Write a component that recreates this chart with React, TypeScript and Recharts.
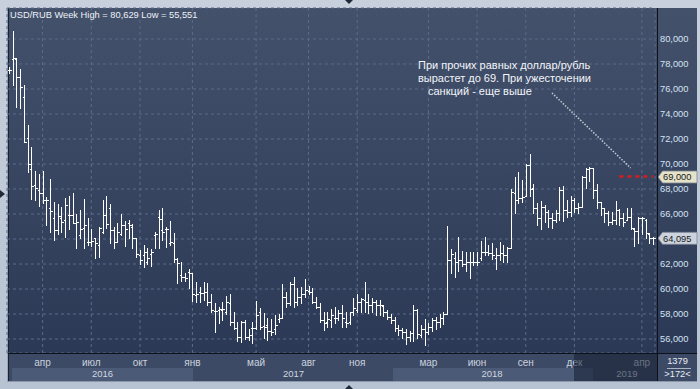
import { ComposedChart, Bar, XAxis, YAxis, CartesianGrid, ReferenceLine } from "recharts";

// weekly OHLC, USD/RUB
const opens = [
  77.55, 78.37, 78.37, 76.93, 75.39, 72.05, 69.57, 68.32, 67.92, 67.65,
  67.12, 66.51, 65.65, 64.72, 65.65, 65.52, 65.92, 65.92, 65.25, 64.32,
  64.85, 63.79, 63.79, 64.05, 63.52, 64.59, 65.92, 66.45, 64.72, 63.79,
  64.37, 65.12, 65.25, 64.99, 64.05, 62.72, 62.72, 62.19, 62.77, 64.32,
  65.79, 64.72, 64.8, 63.65, 63.65, 62.4, 61.12, 60.99, 61.39, 61.25,
  59.52, 59.79, 59.65, 59.79, 58.93, 58.24, 58.32, 58.32, 58.19, 58.85,
  57.39, 56.85, 56.19, 57.39, 56.19, 56.85, 56.91, 58.13, 57.07, 57.12,
  56.64, 56.8, 57.6, 57.65, 59.39, 58.85, 60.37, 58.99, 59.39, 59.57,
  59.84, 59.79, 58.93, 58.59, 57.52, 57.39, 57.52, 57.65, 57.65, 58.05,
  57.39, 57.39, 58.13, 58.32, 58.99, 59.12, 58.99, 58.72, 58.93, 58.72,
  58.67, 58.19, 57.79, 57.52, 56.85, 56.72, 56.53, 56.19, 56.45, 58.32,
  56.32, 56.8, 56.59, 56.99, 57.52, 57.39, 57.65, 57.97, 62.32, 62.45,
  62.19, 62.32, 61.97, 62.13, 62.19, 62.13, 62.45, 62.99, 62.93, 62.85,
  62.51, 62.72, 62.85, 62.72, 63.31, 67.65, 67.12, 67.25, 67.47, 69.92,
  68.05, 66.51, 65.65, 66.59, 66.19, 65.65, 65.52, 66.05, 67.92, 66.32,
  66.19, 67.12, 66.51, 66.59, 68.99, 69.6, 69.65, 67.92, 66.99, 66.51,
  66.05, 65.39, 65.52, 66.32, 65.65, 65.52, 65.79, 64.8, 64.64, 65.65,
  65.52, 64.37, 64.05,
];
const highs = [
  77.75, 80.629, 78.45, 77.6, 76.32, 73.12, 71.33, 69.44, 69.2, 69.44,
  67.39, 68.8, 66.99, 66.77, 66.59, 67.31, 67.47, 67.65, 65.97, 66.32,
  67.2, 65.71, 64.8, 64.05, 64.99, 67.12, 67.44, 66.77, 64.99, 65.25,
  65.97, 65.44, 65.52, 65.17, 64.05, 63.12, 63.52, 63.31, 63.2, 64.53,
  66.32, 66.45, 64.99, 65.44, 64.45, 62.45, 62.13, 61.25, 61.6, 61.25,
  60.59, 60.19, 60.53, 60.45, 59.57, 58.85, 58.59, 58.99, 59.47, 59.57,
  58.13, 57.39, 57.44, 57.52, 56.8, 57.39, 59.04, 58.51, 58.05, 57.71,
  57.6, 57.92, 57.97, 60.37, 59.79, 60.59, 60.93, 60.05, 60.19, 60.8,
  60.27, 60.05, 59.39, 58.85, 58.13, 58.19, 58.4, 58.59, 58.32, 58.72,
  58.19, 58.13, 59.25, 59.57, 59.25, 60.53, 59.57, 59.25, 59.12, 59.12,
  58.72, 58.32, 57.97, 57.79, 57.12, 56.91, 56.8, 56.64, 58.72, 58.4,
  57.12, 57.6, 57.25, 57.71, 57.79, 57.97, 58.13, 65.07, 63.2, 62.99,
  64.19, 63.04, 62.99, 62.93, 62.99, 62.99, 63.84, 64.19, 63.52, 63.65,
  63.31, 63.79, 63.52, 63.39, 67.99, 68.99, 69.39, 68.72, 69.97, 70.77,
  68.37, 66.85, 67.04, 66.72, 66.32, 66.05, 66.32, 68.19, 68.27, 67.12,
  67.47, 67.25, 66.85, 69.07, 69.71, 69.79, 69.71, 68.37, 66.99, 66.51,
  66.24, 66.13, 67.04, 66.4, 66.05, 66.51, 66.45, 64.85, 65.79, 65.79,
  65.6, 64.45, 64.19,
];
const lows = [
  77.3, 76.32, 74.59, 74.45, 71.73, 69.39, 67.2, 67.12, 66.67, 66.85,
  65.12, 64.59, 63.92, 64.37, 64.59, 64.19, 64.8, 65.25, 63.31, 64.11,
  63.31, 63.52, 63.47, 62.51, 62.59, 64.45, 64.91, 63.65, 63.31, 63.79,
  64.32, 63.47, 64.05, 63.25, 62.59, 61.97, 61.79, 61.97, 61.87, 63.31,
  63.25, 63.92, 63.39, 63.52, 62.13, 60.45, 60.64, 60.64, 60.05, 59.04,
  58.99, 58.93, 59.12, 58.72, 58.13, 56.53, 57.25, 57.52, 57.97, 57.12,
  56.8, 55.84, 55.73, 56.0, 55.92, 55.65, 56.8, 56.8, 56.11, 55.92,
  56.32, 56.37, 57.39, 57.65, 58.59, 58.72, 58.59, 58.72, 58.85, 59.39,
  59.57, 58.85, 58.51, 57.39, 56.72, 56.99, 56.99, 57.25, 57.52, 56.99,
  56.99, 57.17, 57.92, 58.13, 58.13, 58.19, 58.05, 58.19, 57.92, 57.92,
  57.87, 57.6, 57.25, 56.64, 56.32, 56.11, 55.6, 55.84, 55.84, 56.05,
  56.19, 55.551, 56.37, 56.64, 56.8, 56.99, 57.17, 57.97, 61.25, 60.99,
  61.44, 61.87, 61.44, 60.91, 61.92, 61.92, 62.32, 62.72, 62.72, 62.4,
  61.6, 62.32, 62.13, 62.13, 63.31, 66.05, 66.85, 66.99, 67.47, 67.47,
  66.05, 65.12, 64.8, 65.39, 64.99, 64.85, 65.39, 65.52, 65.44, 65.79,
  65.87, 66.13, 66.05, 66.59, 68.05, 68.64, 67.25, 66.51, 65.92, 65.39,
  65.12, 65.17, 65.17, 65.12, 65.07, 65.52, 64.8, 63.47, 63.65, 64.37,
  64.05, 63.65, 63.57,
];
const closes = [
  77.52, 78.45, 76.93, 76.19, 71.79, 69.97, 68.27, 68.05, 67.65, 67.12,
  67.12, 66.24, 64.72, 65.87, 65.39, 66.72, 65.92, 65.31, 65.39, 64.8,
  65.12, 63.79, 63.84, 63.65, 64.85, 65.92, 65.17, 64.72, 63.79, 64.59,
  65.12, 64.8, 65.12, 64.05, 62.77, 62.32, 62.99, 62.45, 62.99, 64.37,
  65.6, 64.59, 64.8, 63.73, 62.4, 62.05, 60.93, 60.85, 61.25, 59.57,
  59.57, 59.65, 59.79, 58.99, 58.32, 58.24, 58.4, 58.4, 58.93, 57.39,
  56.91, 56.19, 57.39, 56.19, 56.32, 56.91, 57.92, 56.99, 56.99, 56.64,
  56.59, 57.12, 57.65, 59.39, 58.85, 60.37, 58.99, 59.39, 59.57, 59.92,
  59.79, 58.93, 58.59, 57.52, 57.25, 57.6, 57.92, 57.65, 58.05, 57.65,
  57.25, 58.13, 58.51, 58.99, 59.2, 58.99, 58.72, 58.93, 58.72, 58.72,
  58.19, 57.79, 57.52, 56.85, 56.72, 56.53, 56.19, 56.45, 58.32, 56.37,
  56.8, 56.59, 56.99, 57.52, 57.39, 57.65, 57.97, 62.32, 62.77, 62.19,
  62.32, 61.97, 62.13, 62.19, 62.13, 62.19, 62.99, 62.93, 62.85, 62.72,
  62.72, 62.85, 62.72, 63.31, 67.79, 67.12, 67.25, 67.39, 69.92, 67.99,
  66.51, 65.65, 66.59, 66.19, 65.65, 65.52, 66.05, 67.92, 66.32, 66.19,
  67.12, 66.51, 66.59, 68.99, 69.6, 69.65, 67.92, 66.99, 66.51, 66.05,
  65.39, 65.52, 66.32, 65.65, 65.39, 65.79, 64.85, 64.64, 65.65, 65.65,
  64.45, 64.11, 64.095,
];

// week numbers where the month / year labels sit
const monthTickWeeks = [10, 23, 36, 50, 67, 81, 94, 113, 126, 139, 152, 170];
const monthTickLabels = ["апр", "июл", "окт", "янв", "май", "авг", "ноя", "мар", "июн", "сен", "дек", "апр"];
const yearTickWeeks = [26, 77, 130, 166];
const yearTickLabels = ["2016", "2017", "2018", "2019"];
const priceTicks = [56, 58, 60, 62, 64, 66, 68, 70, 72, 74, 76, 78, 80];

const targetLevel = 69;
const targetFromWeek = 164;
const arrowStart = { week: 146, price: 75.68 };
const arrowEnd = { week: 167, price: 69.68 };

const weeks = highs.map((_, i) => i + 1);
const data = weeks.map((w, i) => ({
  week: w,
  range: [lows[i], highs[i]],
  open: opens[i],
  close: closes[i],
}));
const lastClose = closes[closes.length - 1];
const lastWeek = weeks[weeks.length - 1];

const FONT = '"Liberation Sans", Arial, sans-serif';
const fmt = (v: number) => v.toFixed(3).replace(".", ",");

function OhlcShape(props: any) {
  const { x, y, width, height, payload } = props;
  if (!payload || height == null) return null;
  const [lo, hi] = payload.range;
  const top = height < 0 ? y + height : y;
  const h = Math.abs(height);
  const cx = Math.round(x + width / 2) + 0.5;
  const yOf = (v: number) => top + ((hi - v) / (hi - lo)) * h;
  const yo = Math.round(yOf(payload.open)) + 0.5;
  const yc = Math.round(yOf(payload.close)) + 0.5;
  return (
    <g stroke="#ffffff" strokeWidth={1} shapeRendering="crispEdges">
      <line x1={cx} y1={Math.round(top)} x2={cx} y2={Math.round(top + h) + 1} />
      <line x1={cx - 2} y1={yo} x2={cx} y2={yo} />
      <line x1={cx} y1={yc} x2={cx + 2.5} y2={yc} />
    </g>
  );
}

function MonthTick({ x, y, payload }: any) {
  const label = monthTickLabels[monthTickWeeks.indexOf(payload.value)];
  return (
    <text x={x} y={y + 12.5} textAnchor="middle" fontSize={10} fontFamily={FONT} fill="#c9d2de">
      {label}
    </text>
  );
}

function YearTick({ x, y, payload }: any) {
  const label = yearTickLabels[yearTickWeeks.indexOf(payload.value)];
  return (
    <text x={x} y={y + 9.7} textAnchor="middle" fontSize={9.5} fontFamily={FONT} fill="#cfd6e0">
      {label}
    </text>
  );
}

function PriceTick({ x, y, payload }: any) {
  // the last-price tag covers the tick it lands on
  if (Math.abs(payload.value - lastClose) < 0.6) return null;
  return (
    <text x={x} y={y + 3.3} fontSize={9.3} fontFamily={FONT} fill="#d5e2f3">
      {fmt(payload.value)}
    </text>
  );
}

function PriceTag({ viewBox, text, bg }: any) {
  const x0 = viewBox.x + viewBox.width + 3;
  const yc = viewBox.y + 0.5;
  return (
    <g>
      <path
        d={`M${x0},${yc} L${x0 + 4.5},${yc - 6} L${x0 + 39},${yc - 6} L${x0 + 39},${yc + 6} L${x0 + 4.5},${yc + 6} Z`}
        fill={bg}
        stroke="#7d8590"
        strokeWidth={0.8}
      />
      <text x={x0 + 5} y={yc + 3.4} fontSize={9.3} fontFamily={FONT} fill="#1b1b1b">
        {text}
      </text>
    </g>
  );
}

export default function App() {
  return (
    <div
      style={{
        position: "fixed",
        left: 0,
        top: 0,
        width: 700,
        height: 389,
        overflow: "hidden",
        background: "linear-gradient(#c7d0dc, #b7c3d2)",
        fontFamily: FONT,
      }}
    >
      {/* panels */}
      <div style={{ position: "absolute", left: 8, top: 8, width: 689, height: 346, background: "linear-gradient(#44516b, #2b3956)" }} />
      <div style={{ position: "absolute", left: 8, top: 354, width: 689, height: 27, background: "#3d4a66" }} />
      <div style={{ position: "absolute", left: 12, top: 368, width: 181, height: 13, background: "#4b5a76" }} />
      <div style={{ position: "absolute", left: 393, top: 368, width: 200, height: 13, background: "#4b5a76" }} />
      <div style={{ position: "absolute", left: 7, top: 8, width: 1, height: 374, background: "#9aa6b7" }} />
      <div style={{ position: "absolute", left: 8, top: 8, width: 1, height: 373, background: "#1a2232" }} />
      <div style={{ position: "absolute", left: 8, top: 381, width: 689, height: 1, background: "#8c98aa" }} />

      <div style={{ position: "absolute", left: 0, top: 0 }}>
        <ComposedChart width={700} height={389} data={data} margin={{ top: 8, right: 5, left: 7, bottom: 8 }} barCategoryGap="10%">
          <CartesianGrid stroke="#5b6b88" strokeDasharray="3 3" />
          <XAxis
            dataKey="week"
            height={14}
            ticks={monthTickWeeks}
            interval={0}
            tick={<MonthTick />}
            tickSize={0}
            tickMargin={0}
            tickLine={false}
            axisLine={false}
          />
          <XAxis
            xAxisId="year"
            dataKey="week"
            height={14}
            ticks={yearTickWeeks}
            interval={0}
            tick={<YearTick />}
            tickSize={0}
            tickMargin={0}
            tickLine={false}
            axisLine={false}
          />
          <YAxis
            orientation="right"
            width={40}
            domain={[54.88, 82.48]}
            allowDataOverflow
            ticks={priceTicks}
            interval={0}
            tick={<PriceTick />}
            tickSize={0}
            tickMargin={5}
            tickLine={false}
            axisLine={false}
          />
          <Bar dataKey="range" shape={<OhlcShape />} isAnimationActive={false} />
          <ReferenceLine
            segment={[
              { x: arrowStart.week, y: arrowStart.price },
              { x: arrowEnd.week, y: arrowEnd.price },
            ]}
            stroke="#c3c9d2"
            strokeWidth={1.5}
            strokeDasharray="1.5 1.5"
          />
          <ReferenceLine
            segment={[
              { x: targetFromWeek, y: targetLevel },
              { x: lastWeek, y: targetLevel },
            ]}
            stroke="#d81b1b"
            strokeWidth={2.5}
            strokeDasharray="4 4"
          />
          <ReferenceLine
            y={targetLevel}
            stroke="none"
            label={(p: any) => <PriceTag {...p} text={fmt(targetLevel)} bg="#e4e2c9" />}
          />
          <ReferenceLine
            y={lastClose}
            stroke="none"
            label={(p: any) => <PriceTag {...p} text={fmt(lastClose)} bg="#ccd3de" />}
          />
        </ComposedChart>
      </div>

      {/* separators */}
      <div style={{ position: "absolute", left: 657, top: 8, width: 1, height: 373, background: "#0d111a" }} />
      <div style={{ position: "absolute", left: 8, top: 353, width: 689, height: 1, background: "#0d111a" }} />

      {/* dimmed tail of the time axis */}
      <div style={{ position: "absolute", left: 574, top: 354, width: 83, height: 27, background: "rgba(22,31,50,0.55)" }} />

      {/* texts */}
      <div style={{ position: "absolute", left: 10, top: 9, fontSize: 9.3, lineHeight: "12px", color: "#eef2f8", whiteSpace: "nowrap" }}>
        USD/RUB Week High = 80,629 Low = 55,551
      </div>
      <div style={{ position: "absolute", left: 418, top: 59, fontSize: 11, lineHeight: "13px", color: "#f2f5fa", whiteSpace: "nowrap" }}>
        <div>При прочих равных доллар/рубль</div>
        <div>вырастет до 69. При ужесточении</div>
        <div style={{ paddingLeft: 10 }}>санкций - еще выше</div>
      </div>
      <div style={{ position: "absolute", left: 658, top: 356, width: 39, textAlign: "center", fontSize: 9.3, lineHeight: "11px", color: "#e6ecf4" }}>
        1379
      </div>
      <div style={{ position: "absolute", left: 667, top: 368, width: 24, height: 1, background: "#aab4c2" }} />
      <div style={{ position: "absolute", left: 658, top: 369, width: 39, textAlign: "center", fontSize: 9.3, lineHeight: "11px", color: "#e6ecf4" }}>
        &gt;172&lt;
      </div>

      {/* frame arrows */}
      <div style={{ position: "absolute", left: 345, top: 0, width: 0, height: 0, borderLeft: "4px solid transparent", borderRight: "4px solid transparent", borderTop: "4px solid #1e2838" }} />
      <div style={{ position: "absolute", left: 345, top: 385, width: 0, height: 0, borderLeft: "4px solid transparent", borderRight: "4px solid transparent", borderBottom: "4px solid #1e2838" }} />
      <div style={{ position: "absolute", left: 0, top: 190, width: 0, height: 0, borderTop: "4px solid transparent", borderBottom: "4px solid transparent", borderLeft: "5px solid #1e2838" }} />
    </div>
  );
}
